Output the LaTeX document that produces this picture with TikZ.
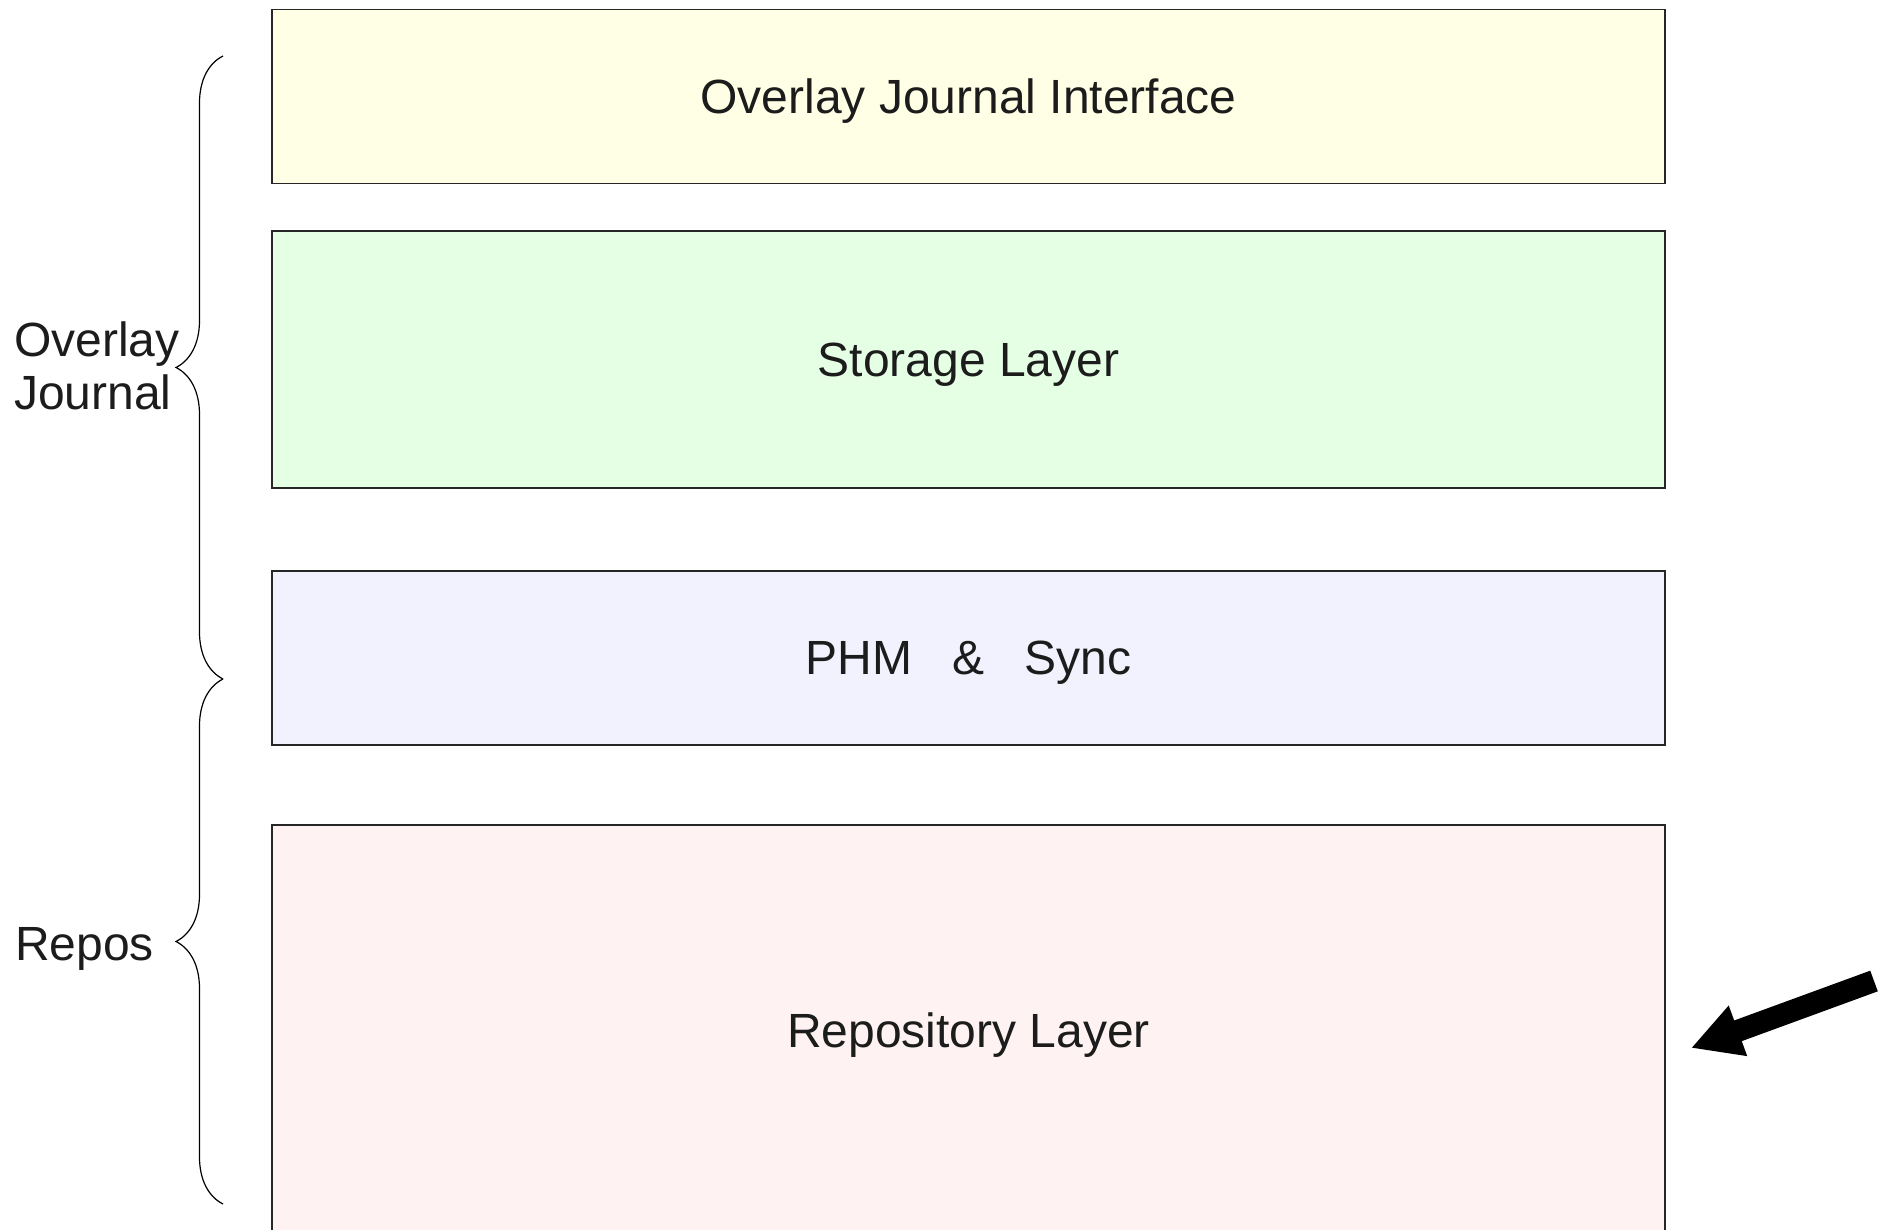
\documentclass[tikz,border=0pt]{standalone}
\usepackage{fontspec}
\setmainfont{Liberation Sans}
\usetikzlibrary{positioning,decorations.pathreplacing,arrows.meta}
\definecolor{ojyellow}{HTML}{FFFFE5}
\definecolor{ojgreen}{HTML}{E5FFE5}
\definecolor{ojblue}{HTML}{F2F2FF}
\definecolor{ojred}{HTML}{FFF2F2}
\definecolor{ojtext}{HTML}{1C1C1C}
\begin{document}
\begin{tikzpicture}[x=1pt,y=-1pt]
	\tikzstyle{layer} = [rectangle,draw=black!85,line width=1.3pt,minimum width=1393pt,inner sep=0pt,outer sep=0pt,text depth=0pt,text=ojtext,font=\fontsize{48}{55}\selectfont]
	\tikzstyle{side} = [inner sep=0pt,text=ojtext,font=\fontsize{48}{53}\selectfont,align=left]
	\tikzstyle{curly} = [decorate,decoration={brace,amplitude=47pt},line width=1.2pt]

		\useasboundingbox (0,0) rectangle (1878,1230);

		\node[layer,fill=ojyellow,minimum height=174pt,anchor=north west] (ojif) at (272,9.6){Overlay Journal Interface};
		\node[layer,fill=ojgreen,minimum height=257pt,anchor=north] (store) at ([yshift=-47.4pt]ojif.south){Storage Layer};
		\node[layer,fill=ojblue,minimum height=174pt,anchor=north] (phm) at ([yshift=-83pt]store.south){PHM\ \ \ \&\ \ \ Sync};
		\node[layer,fill=ojred,minimum height=410pt,anchor=north] (repo) at ([yshift=-80pt]phm.south){Repository Layer};

		\node[side,anchor=base west] (ojlabel) at (14,409){Overlay\\Journal};
		\node[side,anchor=base west] (rplabel) at (15,960){Repos};

		\coordinate (ojtop) at (223,56);
		\coordinate (ojbot) at (223,679);
		\coordinate (rpbot) at (223,1204);
		\draw[curly] (ojbot) -- (ojtop);
		\draw[curly] (rpbot) -- (ojbot);

		\coordinate (arrtail) at (1874,981);
		\coordinate (arrtip) at (1691,1048);
		\draw[line width=22pt,-{Triangle[length=50pt,width=50pt]}] (arrtail) -- (arrtip);
\end{tikzpicture}
\end{document}
